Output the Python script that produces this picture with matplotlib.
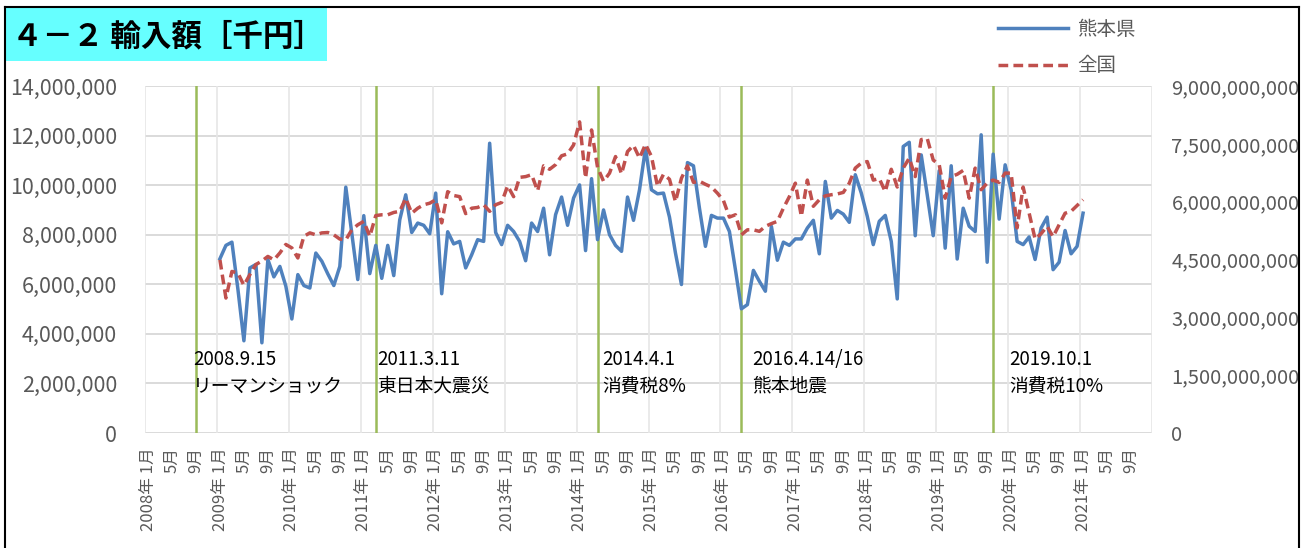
import matplotlib.pyplot as plt
from matplotlib.lines import Line2D
import matplotlib.patches as mpatches
import matplotlib.ticker as mticker
import numpy as np

plt.rcParams['font.family'] = ['Noto Sans CJK JP', 'DejaVu Sans']

# 横軸: 2008年1月〜2021年12月 (月次)
start_year = 2008
n_months = 168
first_data = 12  # データは2009年1月から

# 熊本県 輸入額 [千円] 2009年1月〜2021年1月 (百万単位)
kumamoto_m = [
    7.03, 7.57, 7.70, 5.80, 3.72, 6.66, 6.80, 3.64, 7.00, 6.30, 6.72, 5.92,
    4.60, 6.39, 5.95, 5.85, 7.26, 6.93, 6.42, 5.95, 6.72, 9.92, 8.07, 6.19,
    8.77, 6.43, 7.57, 6.24, 7.57, 6.35, 8.60, 9.61, 8.09, 8.47, 8.38, 8.04,
    9.68, 5.62, 8.12, 7.63, 7.73, 6.66, 7.19, 7.80, 7.73, 11.69, 8.09, 7.60,
    8.38, 8.13, 7.73, 6.95, 8.47, 8.13, 9.07, 7.19, 8.81, 9.52, 8.38, 9.48,
    10.01, 7.36, 10.26, 7.80, 9.00, 8.00, 7.57, 7.33, 9.52, 8.58, 9.81, 11.49,
    9.81, 9.65, 9.68, 8.71, 7.26, 5.99, 10.91, 10.78, 9.07, 7.53, 8.78, 8.67,
    8.67, 8.13, 6.59, 5.01, 5.18, 6.56, 6.12, 5.72, 8.34, 6.97, 7.70, 7.57,
    7.83, 7.83, 8.27, 8.58, 7.23, 10.15, 8.67, 8.98, 8.83, 8.50, 10.42, 9.68,
    8.74, 7.60, 8.54, 8.78, 7.73, 5.41, 11.56, 11.73, 7.96, 11.22, 9.61, 7.96,
    10.58, 7.46, 10.78, 7.02, 9.07, 8.34, 8.13, 12.03, 6.89, 11.25, 8.63, 10.82,
    9.81, 7.73, 7.60, 7.91, 7.00, 8.27, 8.71, 6.59, 6.89, 8.17, 7.23, 7.53,
    8.87,
]

# 全国 輸入額 [千円] 2009年1月〜2021年1月 (十億単位)
national_b = [
    4.49, 3.50, 4.19, 4.15, 3.83, 4.11, 4.37, 4.46, 4.58, 4.49, 4.67, 4.89,
    4.80, 4.54, 5.10, 5.19, 5.14, 5.19, 5.20, 5.14, 5.03, 5.01, 5.27, 5.40,
    5.49, 5.10, 5.64, 5.66, 5.66, 5.72, 5.75, 6.09, 5.70, 5.83, 5.92, 5.96,
    6.05, 5.45, 6.26, 6.16, 6.13, 5.69, 5.83, 5.85, 5.92, 5.75, 5.92, 5.98,
    6.41, 6.13, 6.63, 6.65, 6.70, 6.28, 6.93, 6.84, 6.96, 7.19, 7.24, 7.47,
    8.07, 6.61, 7.86, 6.89, 6.53, 6.74, 7.17, 6.72, 7.30, 7.46, 7.13, 7.49,
    7.17, 6.40, 6.71, 6.58, 6.00, 6.61, 6.93, 6.50, 6.53, 6.45, 6.38, 6.22,
    6.03, 5.60, 5.66, 5.14, 5.27, 5.27, 5.23, 5.36, 5.43, 5.49, 5.83, 6.13,
    6.48, 5.62, 6.56, 5.88, 6.05, 6.15, 6.18, 6.20, 6.24, 6.48, 6.87, 7.00,
    7.04, 6.56, 6.60, 6.26, 6.84, 6.38, 6.87, 7.13, 6.65, 7.61, 7.64, 7.08,
    6.96, 6.09, 6.65, 6.71, 6.81, 6.09, 6.87, 6.31, 6.48, 6.56, 6.50, 6.74,
    6.74, 5.32, 6.38, 5.70, 5.03, 5.17, 5.36, 5.09, 5.40, 5.70, 5.75, 5.90,
    6.05,
]

# 出来事 (年, 月)
event_months = [(2008, 9), (2011, 3), (2014, 4), (2016, 4), (2019, 10)]
event_dates = ['2008.9.15', '2011.3.11', '2014.4.1', '2016.4.14/16', '2019.10.1']
event_names = ['リーマンショック', '東日本大震災', '消費税8%', '熊本地震', '消費税10%']

kumamoto = np.array(kumamoto_m) * 1e6
national = np.array(national_b) * 1e9
x = np.arange(first_data, first_data + len(kumamoto))

W, H = 1305, 548
fig = plt.figure(figsize=(W / 100, H / 100), dpi=100)
ax = fig.add_axes([145 / W, 115 / H, 1007 / W, 347 / H])
ax2 = ax.twinx()

grey = '#595959'

# グリッド
for v in np.arange(0, 14e6 + 1, 2e6):
    ax.axhline(v, color='#D4D4D4', lw=1.2, zorder=0)
for k in range(0, n_months + 1, 12):
    ax.axvline(k - 0.5, color='#E6E6E6', lw=1.2, zorder=0)

# 出来事の縦線と注記
text_offsets = [-0.5, 0.3, 0.8, 1.8, 2.7]
for (yy, mm), d, name, off in zip(event_months, event_dates, event_names, text_offsets):
    idx = (yy - start_year) * 12 + (mm - 1)
    ax.axvline(idx, color='#9BBB59', lw=1.8, zorder=1)
    ax.text(idx + off, 2.95e6, d, fontsize=13.5, color='black', va='center', ha='left', zorder=5)
    ax.text(idx + off, 1.88e6, name, fontsize=13.5, color='black', va='center', ha='left', zorder=5)

l1, = ax.plot(x, kumamoto, color='#4F81BD', lw=2.5, zorder=3, label='熊本県')
l2, = ax2.plot(x, national, color='#C0504D', lw=2.5, ls=(0, (2.8, 1.5)), label='全国')

ax.set_xlim(-0.5, n_months - 0.5)
ax.set_ylim(0, 14e6)
ax2.set_ylim(0, 9e9)

ax.set_yticks(np.arange(0, 14e6 + 1, 2e6))
ax2.set_yticks(np.arange(0, 9e9 + 1, 1.5e9))
fmt = mticker.FuncFormatter(lambda v, p: f'{v:,.0f}')
ax.yaxis.set_major_formatter(fmt)
ax2.yaxis.set_major_formatter(fmt)

ticks = list(range(0, n_months, 4))
labels = []
for i in ticks:
    yy, mm = start_year + i // 12, i % 12 + 1
    labels.append(f'{yy}年 {mm}月' if mm == 1 else f'{mm}月')
ax.set_xticks(ticks)
ax.set_xticklabels(labels, rotation=90)

ax.tick_params(axis='x', length=0, pad=10, labelsize=12, labelcolor=grey)
ax.tick_params(axis='y', length=0, pad=20, labelsize=15.5, labelcolor=grey)
ax2.tick_params(axis='y', length=0, pad=14, labelsize=14.5, labelcolor=grey)

for a in (ax, ax2):
    for s in a.spines.values():
        s.set_visible(False)

# 凡例
fig.legend([l1, l2], ['熊本県', '全国'], loc='upper left',
           bbox_to_anchor=(990 / W, 1 - 11 / H), frameon=False, fontsize=14,
           handlelength=3.6, handletextpad=0.5, labelspacing=0.8,
           borderaxespad=0, labelcolor=grey)

# タイトル枠
fig.add_artist(mpatches.Rectangle((5 / W, 1 - 61 / H), 322 / W, 53 / H,
                                  transform=fig.transFigure, facecolor='#66FFFF',
                                  edgecolor='none'))
fig.text(168 / W, 1 - 36 / H, '４－２ 輸入額［千円］', ha='center', va='center',
         fontsize=22, fontweight='bold', color='black')

# 外枠
for xs, ys in [([5 / W, 5 / W], [0, 1 - 7 / H]),
               ([5 / W, 1299 / W], [1 - 7 / H, 1 - 7 / H]),
               ([1299 / W, 1299 / W], [0, 1 - 7 / H])]:
    fig.add_artist(Line2D(xs, ys, color='black', lw=1.5, transform=fig.transFigure))

plt.savefig('out.png', dpi=100)
